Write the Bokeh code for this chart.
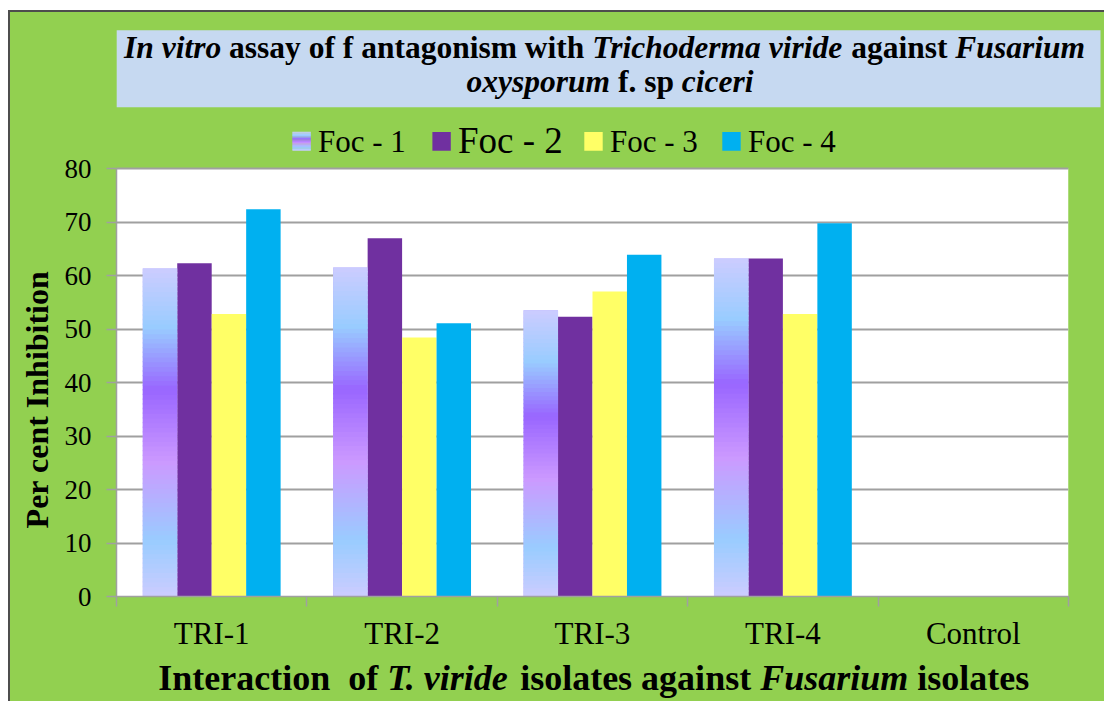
import numpy as np
from bokeh.plotting import figure
from bokeh.layouts import column
from bokeh.models import (ColumnDataSource, FixedTicker, Label, Legend, LegendItem, Range1d, Title)
from bokeh.embed import file_html
from bokeh.resources import INLINE

# ---------------- data ----------------
categories = ["TRI-1", "TRI-2", "TRI-3", "TRI-4", "Control"]
series_names = ["Foc - 1", "Foc - 2", "Foc - 3", "Foc - 4"]
foc1 = [61.3, 61.5, 53.5, 63.2, 0.0]
foc2 = [62.3, 67.0, 52.3, 63.2, 0.0]
foc3 = [52.8, 48.4, 57.0, 52.8, 0.0]
foc4 = [72.4, 51.1, 63.9, 69.8, 0.0]
y_ticks = [0, 10, 20, 30, 40, 50, 60, 70, 80]
Y_MAX = 80

# ---------------- geometry / style ----------------
W = 1104
HT, HM, HB = 112, 543, 46
FL, FR, FB = 116, 36, 59
FW = W - FL - FR                  # frame width (px)
FH = HM - FB                      # frame height (px), frame spans canvas y HT .. HT+FH
F_BOT = HT + FH                   # canvas y of value 0
Y80 = 168.1                       # canvas y of the top of the value axis
YTOP = Y_MAX * FH / (F_BOT - Y80)
GREEN = "#92d050"
FONT = "Liberation Serif"
BAR_W = 0.181
colors = [None, "#7030a0", "#ffff66", "#00b0f0"]


def px2x(cx):
    return (cx - FL) * len(categories) / FW


def px2y(cy):
    return (F_BOT - cy) * YTOP / FH


# Times bold / bold-italic advance widths (1/1000 em)
TB = dict(zip(" .-abcdefghijklmnopqrstuvwxyz",
              [250, 250, 333, 500, 556, 444, 556, 444, 333, 500, 556, 278, 333, 556, 278, 833,
               556, 500, 556, 556, 444, 389, 333, 556, 500, 722, 500, 500, 444]))
TB.update({"I": 389, "T": 667, "F": 611, "P": 611})
TBI = dict(zip(" .-abcdefghijklmnopqrstuvwxyz",
               [250, 250, 333, 500, 500, 444, 500, 444, 333, 500, 556, 278, 278, 500, 278, 778,
                556, 500, 500, 500, 389, 389, 278, 556, 444, 667, 500, 444, 389]))
TBI.update({"I": 389, "T": 611, "F": 667})


def tw(s, italic, size):
    t = TBI if italic else TB
    return sum(t.get(c, 500) for c in s) / 1000.0 * size


def rich_line(fig, parts, size, cx, y):
    # parts: (text, italic, number of spaces before it)
    total = sum(tw(s, it, size) + sp * 0.25 * size for s, it, sp in parts)
    x = cx - total / 2
    for s, it, sp in parts:
        x += sp * 0.25 * size
        fig.add_layout(Label(x=x, y=y, text=s, text_font=FONT,
                             text_font_style="bold italic" if it else "bold",
                             text_font_size="%spx" % size, text_color="black",
                             text_align="left", text_baseline="middle"))
        x += tw(s, it, size)


def blank_fig(h):
    f = figure(width=W, height=h, x_range=Range1d(0, W), y_range=Range1d(0, h),
               output_backend="svg", toolbar_location=None, title=None,
               x_axis_location=None, y_axis_location=None, frame_align=False,
               min_border=0, background_fill_alpha=0, border_fill_alpha=0,
               outline_line_color=None)
    f.grid.visible = False
    return f


stops = [(0.0, (0xcc, 0xcc, 0xff)), (0.18, (0x99, 0xcc, 0xff)), (0.37, (0x99, 0x66, 0xff)),
         (0.59, (0xcc, 0x99, 0xff)), (0.83, (0x99, 0xcc, 0xff)), (1.0, (0xcc, 0xcc, 0xff))]


def grad(f):
    for (f0, c0), (f1, c1) in zip(stops[:-1], stops[1:]):
        if f0 <= f <= f1:
            t = (f - f0) / (f1 - f0)
            c = [int(round(a + (b - a) * t)) for a, b in zip(c0, c1)]
            return "#%02x%02x%02x" % tuple(c)
    return "#ccccff"


# ================= top: title =================
pt = blank_fig(HT)
pt.quad(left=116.2, right=1100, bottom=HT - 106.8, top=HT - 29.7,
        fill_color="#c6d9f1", line_color=None)
rich_line(pt, [("In vitro", True, 0), ("assay of f antagonism with", False, 1),
               ("Trichoderma viride", True, 1), ("against", False, 1), ("Fusarium", True, 1)],
          31.5, 604, HT - 46.5)
rich_line(pt, [("oxysporum", True, 0), ("f. sp", False, 1), ("ciceri", True, 1)],
          31.5, 609.6, HT - 81.0)

# ================= main chart =================
p = figure(width=W, height=HM, x_range=Range1d(0, len(categories)), y_range=Range1d(0, YTOP),
           output_backend="svg", toolbar_location=None, title=None, frame_align=False,
           min_border_left=FL, min_border_right=FR, min_border_top=0, min_border_bottom=FB,
           background_fill_alpha=0, border_fill_alpha=0, outline_line_color=None)

# white plotting area (value range 0 .. 80)
p.quad(left=0, right=len(categories), bottom=0, top=Y_MAX, fill_color="white",
       line_color=None, level="image")

centers = np.arange(len(categories)) + 0.5
series = [foc1, foc2, foc3, foc4]
for k, vals in enumerate(series):
    xs = centers + (k - 1.5) * BAR_W
    src = ColumnDataSource(dict(x=xs, top=vals, cat=categories))
    fc = colors[k] if colors[k] else "#b3a6ff"
    p.vbar(x="x", top="top", bottom=0, width=BAR_W, source=src, fill_color=fc, line_color=None)

# gradient fill of the Foc - 1 bars
N = 70
gx, gb, gt, gc = [], [], [], []
for i, v in enumerate(foc1):
    if v <= 0:
        continue
    x = centers[i] - 1.5 * BAR_W
    for j in range(N):
        gx.append(x)
        gb.append(v * j / N)
        gt.append(min(v * (j + 1) / N + v * 0.004, v))
        gc.append(grad(1 - (j + 0.5) / N))
p.vbar(x=gx, bottom=gb, top=gt, width=BAR_W, fill_color=gc, line_color=None)

p.xgrid.visible = False
p.ygrid.grid_line_color = "#a0a0a0"
p.ygrid.grid_line_width = 2
p.ygrid.ticker = FixedTicker(ticks=y_ticks)

ya = p.yaxis[0]
ya.bounds = (0, Y_MAX)
ya.ticker = FixedTicker(ticks=y_ticks)
ya.axis_line_color = "#a0a0a0"
ya.axis_line_width = 1.5
ya.major_tick_line_color = "#a0a0a0"
ya.major_tick_line_width = 1.5
ya.major_tick_out = 10
ya.major_tick_in = 0
ya.minor_tick_line_color = None
ya.major_label_text_font = FONT
ya.major_label_text_font_size = "27px"
ya.major_label_text_color = "black"
ya.major_label_standoff = 15

# value-axis title, placed beside the 0..80 part of the axis
y_title = "Per cent Inhibition"
y_title_size = 32
y_title_len = tw(y_title, False, y_title_size)
y_title_center = 399.0            # canvas y of the title centre
p.add_layout(Title(text=y_title, align="left",
                   offset=F_BOT - (y_title_center + y_title_len / 2),
                   text_font=FONT, text_font_style="bold",
                   text_font_size="%dpx" % y_title_size, text_color="black",
                   standoff=14), "left")

xa = p.xaxis[0]
xa.ticker = FixedTicker(ticks=list(centers), minor_ticks=list(range(len(categories) + 1)))
xa.major_label_overrides = {float(c): lab for c, lab in zip(centers, categories)}
xa.axis_line_color = "#a0a0a0"
xa.axis_line_width = 1.5
xa.major_tick_line_color = None
xa.major_tick_out = 0
xa.major_tick_in = 0
xa.minor_tick_line_color = "#a0a0a0"
xa.minor_tick_line_width = 1.5
xa.minor_tick_out = 10
xa.minor_tick_in = 0
xa.major_label_text_font = FONT
xa.major_label_text_font_size = "31px"
xa.major_label_text_color = "black"
xa.major_label_standoff = 9

# ---------------- legend (one box per entry, keys drawn as squares) ----------------
sw_left = [291.9, 431.9, 583.8, 721.8]       # canvas x of the keys
sw_top, sw_bot, sw_w = 131.5, 150.3, 18.4
leg_sizes = [31, 37, 31, 31]
leg_y = [436, 434, 436, 436]
key_colors = ["#b3a6ff", colors[1], colors[2], colors[3]]
for k in range(4):
    dummy = p.vbar(x=[], top=[], width=0.1, fill_alpha=0, line_alpha=0)
    leg = Legend(items=[LegendItem(label=series_names[k], renderers=[dummy])],
                 location=(int(round(sw_left[k] - FL)), leg_y[k]), orientation="horizontal",
                 label_text_font=FONT, label_text_font_size="%dpx" % leg_sizes[k],
                 label_text_color="black", glyph_width=18, glyph_height=18,
                 label_standoff=8, padding=0, margin=0,
                 background_fill_alpha=0, border_line_color=None)
    p.add_layout(leg, "center")
    if k > 0:
        p.quad(left=px2x(sw_left[k]), right=px2x(sw_left[k] + sw_w),
               bottom=px2y(sw_bot), top=px2y(sw_top), fill_color=key_colors[k], line_color=None)
# gradient key of Foc - 1
n = 24
kb = [px2y(sw_bot - (sw_bot - sw_top) * j / n) for j in range(n)]
kt = [px2y(sw_bot - (sw_bot - sw_top) * (j + 1) / n - 0.3) for j in range(n)]
kc = [grad(1 - (j + 0.5) / n) for j in range(n)]
p.quad(left=px2x(sw_left[0]), right=px2x(sw_left[0] + sw_w), bottom=kb, top=kt,
       fill_color=kc, line_color=None)

# ================= bottom: x-axis title =================
pb = blank_fig(HB)
rich_line(pb, [("Interaction", False, 0), ("of", False, 2), ("T. viride", True, 1),
               ("isolates against", False, 1), ("Fusarium", True, 1), ("isolates", False, 1)],
          36, 593.2, HB - 22.3 + (701 - HT - HM - HB))

bg = ("linear-gradient(to right, #ffffff 0px, #ffffff 8px, transparent 8px), "
      "linear-gradient(to bottom, #ffffff 0px, #ffffff 10px, #4d4d4d 10px, #4d4d4d 12px, transparent 12px), "
      "linear-gradient(to right, #ffffff 0px, #ffffff 8px, #4d4d4d 8px, #4d4d4d 10px, %s 10px)" % GREEN)
layout = column(pt, p, pb, spacing=0, styles={"background": bg})

open("out.html", "w").write(file_html(layout, INLINE))
